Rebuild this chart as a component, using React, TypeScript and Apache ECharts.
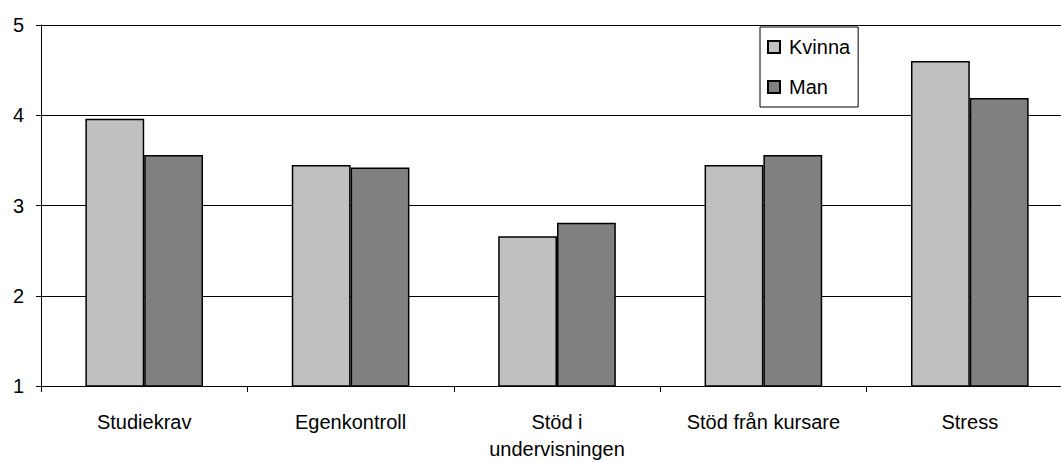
import React, { useEffect, useRef } from "react";
import * as echarts from "echarts";

const categories = [
  "Studiekrav",
  "Egenkontroll",
  "Stöd i\nundervisningen",
  "Stöd från kursare",
  "Stress",
];
const kvinna = [3.96, 3.45, 2.66, 3.45, 4.6];
const man = [3.56, 3.42, 2.81, 3.56, 4.19];
const seriesNames = ["Kvinna", "Man"];

const FONT = "Liberation Sans, Arial, sans-serif";

export default function App() {
  const ref = useRef<HTMLDivElement>(null);
  useEffect(() => {
    if (!ref.current) return;
    const chart = echarts.init(ref.current, undefined, { renderer: "svg" });
    chart.setOption({
      animation: false,
      backgroundColor: "#fff",
      textStyle: { fontFamily: FONT },
      grid: { left: 41, top: 25, width: 1032, bottom: 74, containLabel: false },
      legend: {
        show: true,
        data: seriesNames,
        orient: "vertical",
        left: 760,
        top: 27,
        width: 100,
        padding: [10, 8, 10, 7],
        itemGap: 20,
        itemWidth: 12,
        itemHeight: 12,
        icon: "rect",
        borderColor: "#000",
        borderWidth: 1,
        backgroundColor: "#fff",
        textStyle: {
          fontFamily: FONT,
          fontSize: 20,
          color: "#000",
          padding: [0, 0, 0, 4],
        },
      },
      xAxis: {
        type: "category",
        data: categories,
        axisLine: { show: true, lineStyle: { color: "#000", width: 1 } },
        axisTick: { show: true, length: 6, lineStyle: { color: "#000" }, alignWithLabel: false },
        axisLabel: {
          fontFamily: FONT,
          fontSize: 20,
          color: "#000",
          margin: 22,
          lineHeight: 27,
          interval: 0,
        },
        splitLine: { show: false },
      },
      yAxis: {
        type: "value",
        min: 1,
        max: 5,
        interval: 1,
        axisLine: { show: true, lineStyle: { color: "#000", width: 1 } },
        axisTick: { show: true, length: 5, lineStyle: { color: "#000" } },
        axisLabel: { fontFamily: FONT, fontSize: 20, color: "#000", margin: 17 },
        splitLine: { show: true, lineStyle: { color: "#000", width: 1 } },
      },
      series: [
        {
          name: seriesNames[0],
          type: "bar",
          data: kvinna,
          barGap: "0%",
          barCategoryGap: "43%",
          itemStyle: { color: "#C0C0C0", borderColor: "#000", borderWidth: 1.5 },
        },
        {
          name: seriesNames[1],
          type: "bar",
          data: man,
          barGap: "0%",
          barCategoryGap: "43%",
          itemStyle: { color: "#808080", borderColor: "#000", borderWidth: 1.5 },
        },
      ],
    });
    return () => chart.dispose();
  }, []);
  return (
    <div
      style={{
        position: "fixed",
        left: 0,
        top: 0,
        width: 1061,
        height: 462,
        overflow: "hidden",
        background: "#fff",
      }}
    >
      <div ref={ref} style={{ width: 1074, height: 462 }} />
    </div>
  );
}
